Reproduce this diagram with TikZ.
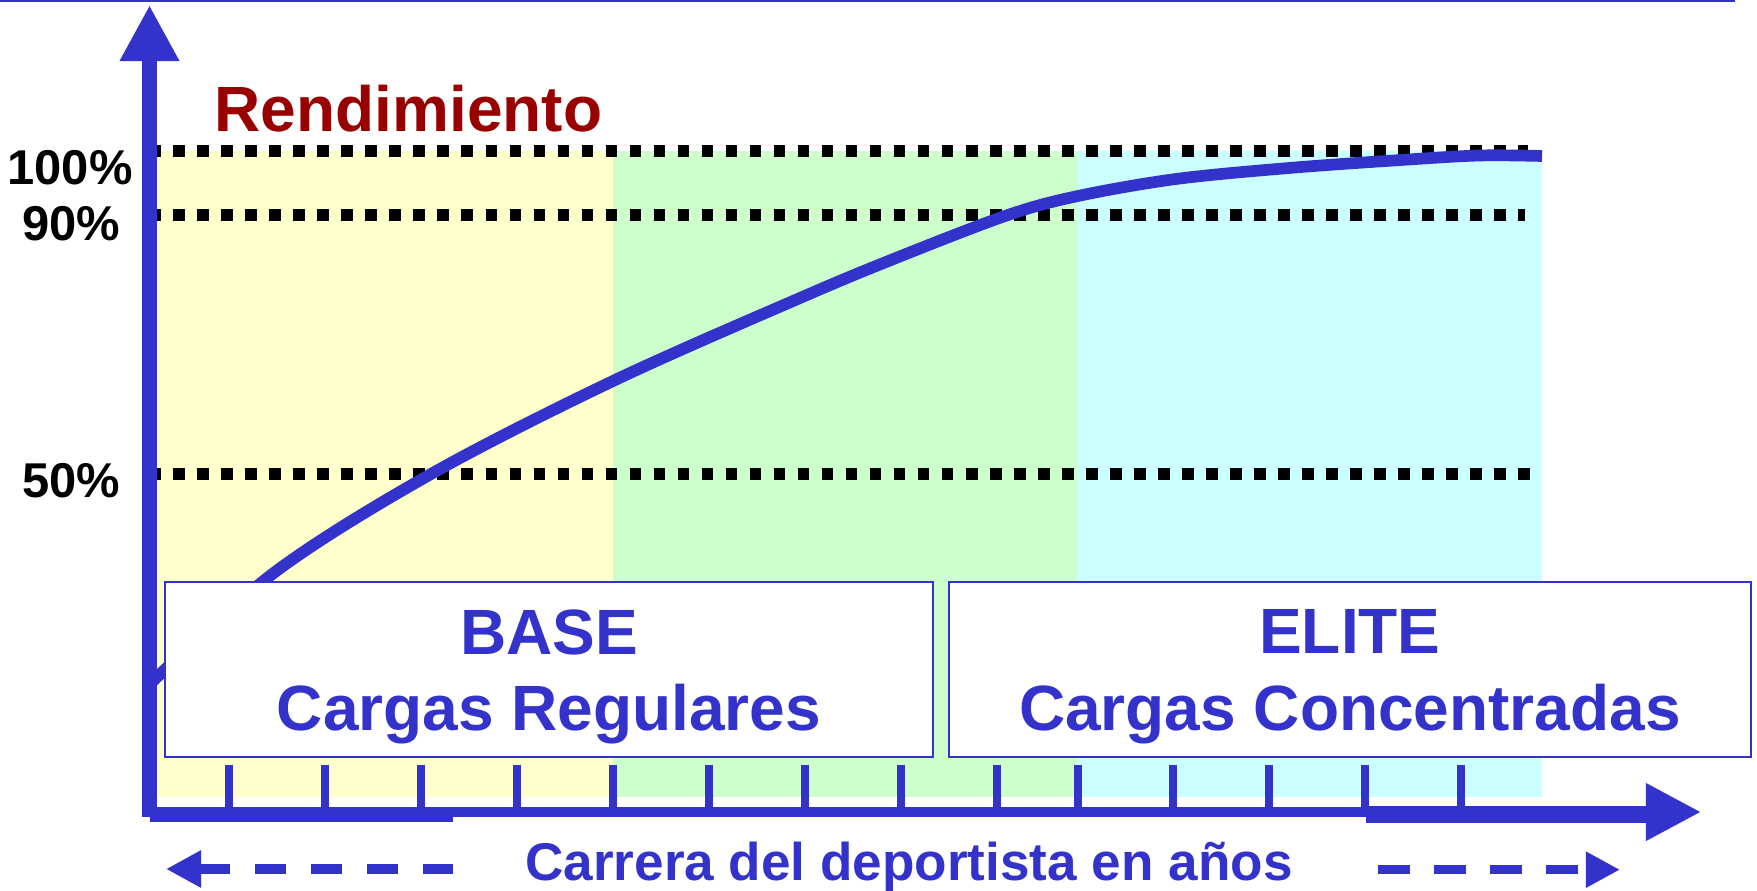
\documentclass[tikz,border=0pt]{standalone}
\usepackage{fontspec}
\setmainfont{Liberation Sans}
\usetikzlibrary{arrows.meta, positioning}
\definecolor{axisblue}{RGB}{51, 51, 204}
\definecolor{titlered}{RGB}{153, 0, 0}
\definecolor{baseyellow}{RGB}{255, 255, 204}
\definecolor{midgreen}{RGB}{204, 255, 204}
\definecolor{elitecyan}{RGB}{204, 255, 255}

\begin{document}
\begin{tikzpicture}[
  x=0.01cm, y=-0.01cm,
  axis/.style={draw=axisblue, line width=0.156cm},
  tick/.style={draw=axisblue, line width=0.077cm},
  dots/.style={draw=black, line width=0.117cm, dash pattern=on 0.117cm off 0.123cm},
  curve/.style={draw=axisblue, line width=0.117cm},
  stagebox/.style={draw=axisblue, line width=0.6pt, fill=white, minimum height=1.75cm,
    inner sep=0pt, outer sep=0pt},
  stagetext/.style={align=center, text=axisblue, inner sep=0pt,
    font=\fontsize{18.2}{21.8}\selectfont\bfseries},
  pct/.style={inner sep=0pt, font=\fontsize{13.9}{16}\selectfont\bfseries},
  dasharrow/.style={draw=axisblue, line width=0.093cm, dash pattern=on 0.315cm off 0.245cm}
]
  \useasboundingbox (0,0) rectangle (1757,891);

  % top rule
  \draw[axisblue, line width=0.017cm] (0,0.85) -- (1735,0.85);

  % phases behind the curve
  \fill[baseyellow] (157,151) rectangle (612.5,797);
  \fill[midgreen] (612.5,151) rectangle (1076.5,797);
  \fill[elitecyan] (1076.5,151) rectangle (1542,797);

  % reference levels
  \draw[dots] (149.3,151) -- (1528,151);
  \draw[dots] (149.3,215) -- (1525,215);
  \draw[dots] (149.3,474) -- (1530,474);
  \node[pct] (p100) at (70,168) {100\%};
  \node[pct] (p90) at (71,224) {90\%};
  \node[pct] (p50) at (71,481) {50\%};

  % performance curve
  \draw[curve] plot[smooth, tension=0.55] coordinates {
    (151,683) (275,572) (431,474) (613,381) (800,298) (896,258) (1008,215)
    (1078,196) (1176,179) (1289,168) (1401,160) (1479,155.5) (1542,156)};

  % stages
  \node[stagebox, minimum width=7.68cm] (base) at (549,669.5) {};
  \node[stagebox, minimum width=8.01cm, right=0.16cm of base] (elite) {};
  \node[stagetext, yshift=-0.075cm] (basetext) at (base.center) {BASE\\Cargas Regulares};
  \node[stagetext, yshift=-0.075cm] (elitetext) at (elite.center) {ELITE\\Cargas Concentradas};

  % axes
  \coordinate (origin) at (149.5,812);
  \coordinate (ytip) at (149.5,5);
  \coordinate (xtip) at (1700.7,812);
  \draw[axis, -{Triangle[length=0.56cm, width=0.556cm]}] (149.5,813) -- (ytip);
  \draw[axis, line width=0.104cm, -{Triangle[length=0.547cm, width=0.55cm]}] (142,812) -- (xtip);
  \fill[axisblue] (149.5,806.7) rectangle (453,821.7);
  \fill[axisblue] (1366,806) rectangle (1646,822.7);
  \foreach \x in {229,325,421,517,613,709,805,901,997,1078,1173,1269,1365,1461}
    \draw[tick] (\x,765) -- (\x,807);

  \node[anchor=base west, inner sep=0pt, text=titlered,
    font=\fontsize{18.2}{21.8}\selectfont\bfseries] (title) at (214,131.7) {Rendimiento};

  % time axis caption
  \coordinate (lefttip) at (166,869);
  \coordinate (leftend) at (453,869);
  \coordinate (rightstart) at (1378,869.7);
  \coordinate (righttip) at (1620,869.7);
  \draw[dasharrow, {Triangle[length=0.35cm, width=0.35cm]}-] (lefttip) -- (leftend);
  \draw[dasharrow, -{Triangle[length=0.342cm, width=0.34cm]}] (rightstart) -- (righttip);
  \node[anchor=base, inner sep=0pt, text=axisblue,
    font=\fontsize{15.1}{18}\selectfont\bfseries] (career) at (909,880)
    {Carrera del deportista en años};
\end{tikzpicture}
\end{document}
